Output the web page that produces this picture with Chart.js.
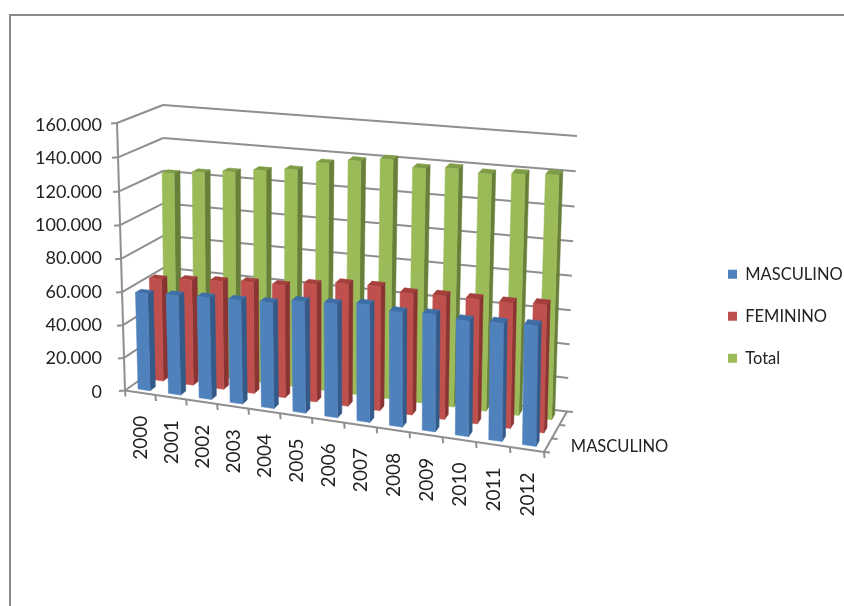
<!DOCTYPE html>
<html>
<head>
<meta charset="utf-8">
<script src="https://cdn.jsdelivr.net/npm/chart.js@4"></script>
<style>
  html, body { margin: 0; padding: 0; background: #fff; }
  canvas { display: block; }
</style>
</head>
<body>
<canvas id="barChart" width="844" height="606"></canvas>
<script>
const years = ["2000","2001","2002","2003","2004","2005","2006","2007","2008","2009","2010","2011","2012"];
const masculino = [59000,60400,61600,62500,63500,66600,67700,69800,67800,69000,67900,69000,70100];
const femenino = [62700,64500,66000,67500,68000,70900,73400,74100,72300,73200,73500,73700,74900];
const total = [122400,124600,126700,129200,131400,136900,139900,142400,139000,140600,139200,140700,142000];
const yTicks = [0,20000,40000,60000,80000,100000,120000,140000,160000];

const GRID = "#8f8f8f";
const TEXT = "#222";
const FONT = "Lato";

// front, side and top face colours per series
const faces = [
  { front: "#4f81bd", side: "#335a88", top: "#3f6ea6" },
  { front: "#c0504d", side: "#8a3533", top: "#a5403d" },
  { front: "#9bbb59", side: "#677f39", top: "#7f9c46" },
];

// corners of the 3d box, [x, y] on screen: box[u][v][w]
const box = [
  [[[125, 390.5], [165, 362]], [[117, 123], [163, 105]]],
  [[[544, 452], [567, 411.5]], [[548, 172], [577, 136]]],
];
// perspective: categories get wider to the right, value steps taller upwards
const stretchX = -0.06;
const stretchY = -0.03;

function project(chart, px, py, w) {
  const area = chart.chartArea;
  let u = (px - area.left) / area.width;
  let v = (area.bottom - py) / area.height;
  u = u * (1 + stretchX) / (1 + stretchX * u);
  v = v * (1 + stretchY) / (1 + stretchY * v);
  const out = [0, 0];
  for (let a = 0; a < 2; a++) {
    for (let b = 0; b < 2; b++) {
      for (let c = 0; c < 2; c++) {
        const k = (a ? u : 1 - u) * (b ? v : 1 - v) * (c ? w : 1 - w);
        out[0] += k * box[a][b][c][0];
        out[1] += k * box[a][b][c][1];
      }
    }
  }
  return out;
}

function line(ctx, p, q) {
  ctx.beginPath();
  ctx.moveTo(p[0], p[1]);
  ctx.lineTo(q[0], q[1]);
  ctx.stroke();
}

function quad(ctx, pts, color) {
  ctx.fillStyle = color;
  ctx.strokeStyle = color;
  ctx.lineWidth = 0.5;
  ctx.beginPath();
  pts.forEach((p, i) => i ? ctx.lineTo(p[0], p[1]) : ctx.moveTo(p[0], p[1]));
  ctx.closePath();
  ctx.fill();
  ctx.stroke();
}

function drawWalls(chart) {
  const ctx = chart.ctx;
  const { left, right, top, bottom, width } = chart.chartArea;
  const yScale = chart.scales.y;

  ctx.strokeStyle = GRID;
  ctx.lineWidth = 2;

  yTicks.forEach(value => {
    const py = yScale.getPixelForValue(value);
    const front = project(chart, left, py, 0);
    const back = project(chart, left, py, 1);
    line(ctx, [front[0] - 6, front[1] + 0.5], front);
    line(ctx, front, back);
    line(ctx, back, project(chart, right, py, 1));
  });
  line(ctx, project(chart, left, top, 0), project(chart, left, bottom, 0));

  // floor edges and tick marks
  line(ctx, project(chart, left, bottom, 0), project(chart, right, bottom, 0));
  line(ctx, project(chart, right, bottom, 0), project(chart, right, bottom, 1));
  const step = width / years.length;
  for (let i = 0; i <= years.length; i++) {
    const p = project(chart, left + i * step, bottom, 0);
    line(ctx, p, [p[0] + 0.5, p[1] + 6]);
  }
  [0, 1 / 3, 2 / 3, 1].forEach(w => {
    const p = project(chart, right, bottom, w);
    line(ctx, p, [p[0] + 6, p[1] + 0.5]);
  });
}

function drawBars(chart) {
  const ctx = chart.ctx;
  for (let row = chart.data.datasets.length - 1; row >= 0; row--) {
    const w0 = (row + 0.3) / 3;
    const w1 = (row + 0.7) / 3;
    const color = faces[row];
    chart.getDatasetMeta(row).data.forEach(bar => {
      const x0 = bar.x - bar.width / 2;
      const x1 = bar.x + bar.width / 2;
      quad(ctx, [project(chart, x0, bar.y, w1), project(chart, x1, bar.y, w1),
                 project(chart, x1, bar.y, w0), project(chart, x0, bar.y, w0)], color.top);
      quad(ctx, [project(chart, x1, bar.y, w0), project(chart, x1, bar.y, w1),
                 project(chart, x1, bar.base, w1), project(chart, x1, bar.base, w0)], color.side);
      quad(ctx, [project(chart, x0, bar.y, w0), project(chart, x1, bar.y, w0),
                 project(chart, x1, bar.base, w0), project(chart, x0, bar.base, w0)], color.front);
    });
  }
}

function drawLabels(chart) {
  const ctx = chart.ctx;
  const { right, bottom } = chart.chartArea;
  ctx.fillStyle = TEXT;
  ctx.font = "19px " + FONT;
  ctx.textBaseline = "middle";
  years.forEach((year, i) => {
    const p = project(chart, chart.scales.x.getPixelForValue(i), bottom, 0);
    ctx.save();
    ctx.translate(p[0] + 1, p[1] + 23);
    ctx.rotate(-Math.PI / 2);
    ctx.textAlign = "right";
    ctx.fillText(year, 0, 0);
    ctx.restore();
  });
  const p = project(chart, right, bottom, 1 / 6);
  ctx.font = "16.5px " + FONT;
  ctx.textAlign = "left";
  ctx.fillText(chart.data.datasets[0].label, p[0] + 23, p[1] + 1);
}

const box3d = {
  id: "box3d",
  beforeDraw(chart) {
    // outer chart border, only its top and left show
    const ctx = chart.ctx;
    ctx.strokeStyle = "#8a8a8a";
    ctx.lineWidth = 2;
    ctx.beginPath();
    ctx.moveTo(10, chart.height);
    ctx.lineTo(10, 15);
    ctx.lineTo(chart.width, 15);
    ctx.stroke();
  },
  beforeDatasetsDraw(chart) {
    drawWalls(chart);
    drawBars(chart);
    drawLabels(chart);
    return false; // bars are already painted in 3d
  },
};

new Chart(document.getElementById("barChart").getContext("2d"), {
  type: "bar",
  data: {
    labels: years,
    datasets: [
      { label: "MASCULINO", data: masculino, backgroundColor: faces[0].front },
      { label: "FEMININO", data: femenino, backgroundColor: faces[1].front },
      { label: "Total", data: total, backgroundColor: faces[2].front },
    ],
  },
  options: {
    responsive: false,
    animation: false,
    events: [],
    layout: { padding: { left: 18, top: 125, bottom: 214, right: 0 } },
    datasets: { bar: { grouped: false, barPercentage: 1, categoryPercentage: 0.4 } },
    scales: {
      x: { display: false },
      y: {
        min: 0,
        max: 160000,
        afterBuildTicks(scale) { scale.ticks = yTicks.map(value => ({ value })); },
        grid: { display: false, drawTicks: false },
        border: { display: false },
        ticks: {
          color: TEXT,
          padding: 17,
          font: { family: FONT, size: 18 },
          callback: value => String(value).replace(/\B(?=(\d{3})+$)/g, "."),
        },
      },
    },
    plugins: {
      tooltip: { enabled: false },
      legend: {
        position: "right",
        align: "end",
        maxWidth: 141.5,
        labels: {
          color: TEXT,
          boxWidth: 9,
          boxHeight: 9,
          padding: 25.5,
          font: { family: FONT, size: 16.5 },
        },
      },
    },
  },
  plugins: [box3d],
});
</script>
</body>
</html>
